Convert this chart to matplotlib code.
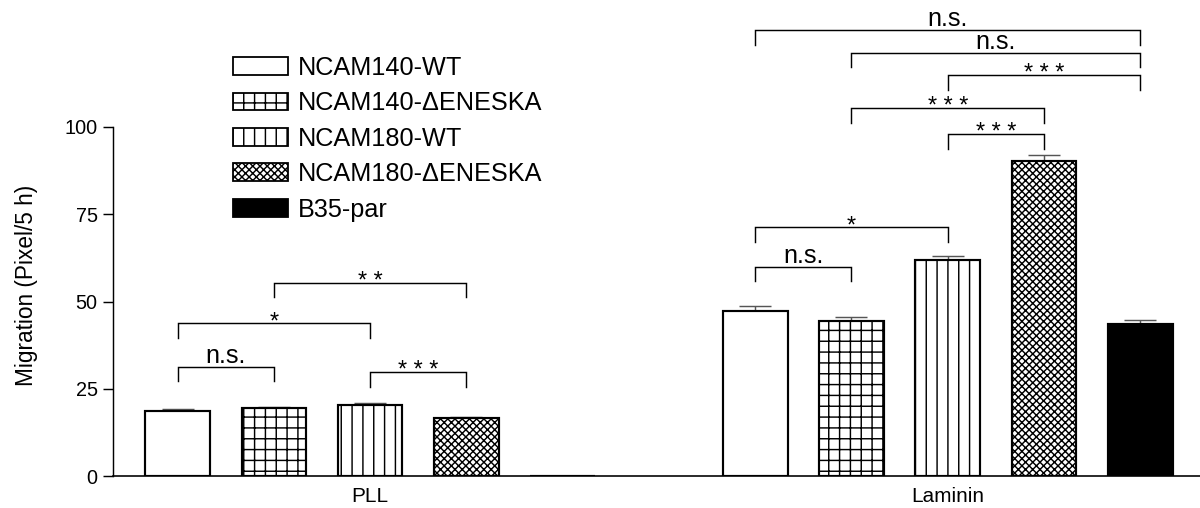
import matplotlib
matplotlib.use("Agg")
import matplotlib.pyplot as plt
from matplotlib.patches import Patch
import numpy as np

plt.rcParams['font.family'] = ['Liberation Sans', 'DejaVu Sans']
plt.rcParams['hatch.linewidth'] = 0.8

# --- data ---
conditions = ["PLL", "Laminin"]
cell_lines = ["NCAM140-WT", "NCAM140-\u0394ENESKA", "NCAM180-WT",
              "NCAM180-\u0394ENESKA", "B35-par"]
pll_mean = [18.6, 19.4, 20.4, 16.7, 0.0]
pll_sem = [0.5, 0.5, 0.4, 0.2, 0.0]
laminin_mean = [47.3, 44.5, 62.0, 90.3, 43.5]
laminin_sem = [1.3, 1.1, 1.0, 1.8, 1.1]

# significance brackets: (condition index, bar a, bar b, height, label)
brackets = [
    (0, 0, 1, 31.3, "n.s."),
    (0, 0, 2, 43.8, "*"),
    (0, 1, 3, 55.4, "* *"),
    (0, 2, 3, 29.7, "* * *"),
    (1, 0, 1, 60.0, "n.s."),
    (1, 0, 2, 71.3, "*"),
    (1, 2, 3, 97.9, "* * *"),
    (1, 1, 3, 105.4, "* * *"),
    (1, 2, 4, 114.9, "* * *"),
    (1, 1, 4, 121.3, "n.s."),
    (1, 0, 4, 127.8, "n.s."),
]

# --- styling ---
faces = ["white", "white", "white", "white", "black"]
hatches = [None, "++", "||", "xxxxxx", None]
bar_width = 0.672
group_gap = 6

DPI = 130
W, H = 1200, 508
fig = plt.figure(figsize=(W / DPI, H / DPI), dpi=DPI)
ax = fig.add_axes([113 / W, 1 - 476 / H, 1 - 113 / W, (476 - 127) / H])

all_means = [pll_mean, laminin_mean]
all_sems = [pll_sem, laminin_sem]
for g, (means, sems) in enumerate(zip(all_means, all_sems)):
    x = np.arange(len(means)) + g * group_gap
    for k in range(len(means)):
        ax.bar(x[k], means[k], width=bar_width, color=faces[k],
               edgecolor="black", linewidth=1.2, hatch=hatches[k], zorder=2)
        if sems[k] > 0:
            ax.errorbar(x[k], means[k], yerr=[[0], [sems[k]]], fmt="none",
                        ecolor="#555555", elinewidth=0.8, capsize=9,
                        capthick=0.8, zorder=1)

drop = 4.2
for g, a, b, h, label in brackets:
    xa = a + g * group_gap
    xb = b + g * group_gap
    ax.plot([xa, xa, xb, xb], [h - drop, h, h, h - drop], color="black",
            linewidth=0.8, clip_on=False, solid_joinstyle="miter")
    if label == "n.s.":
        ax.annotate(label, xy=((xa + xb) / 2, h), xytext=(0, 4),
                    textcoords="offset pixels", ha="center", va="baseline",
                    fontsize=14, annotation_clip=False)
    else:
        ax.annotate(label, xy=((xa + xb) / 2, h), xytext=(0, -5),
                    textcoords="offset pixels", ha="center", va="baseline",
                    fontsize=13, annotation_clip=False)

ax.set_xlim(-0.671, 10.62)
ax.set_ylim(0, 100)
ax.set_yticks([0, 25, 50, 75, 100])
ax.set_xticks([2, 2 + group_gap])
ax.set_xticklabels(conditions, fontsize=11.5)
ax.tick_params(axis="x", length=0, pad=6)
ax.tick_params(axis="y", length=5.5, width=0.8, labelsize=11, pad=3)
for side in ("top", "right"):
    ax.spines[side].set_visible(False)
ax.spines["left"].set_linewidth(0.8)
ax.spines["bottom"].set_linewidth(0.9)

fig.text(27 / W, 1 - 285 / H, "Migration (Pixel/5 h)", rotation=90,
         ha="center", va="center", fontsize=12.5)

handles = [Patch(facecolor=faces[k], edgecolor="black", linewidth=1.0,
                 hatch=hatches[k]) for k in range(len(cell_lines))]
fig.legend(handles, cell_lines, loc="upper left",
           bbox_to_anchor=(233 / W, 1 - 56 / H), frameon=False,
           fontsize=14, handlelength=2.17, handleheight=0.71,
           handletextpad=0.4, labelspacing=0.45, borderpad=0,
           borderaxespad=0)

fig.savefig("out.png", dpi=DPI)
